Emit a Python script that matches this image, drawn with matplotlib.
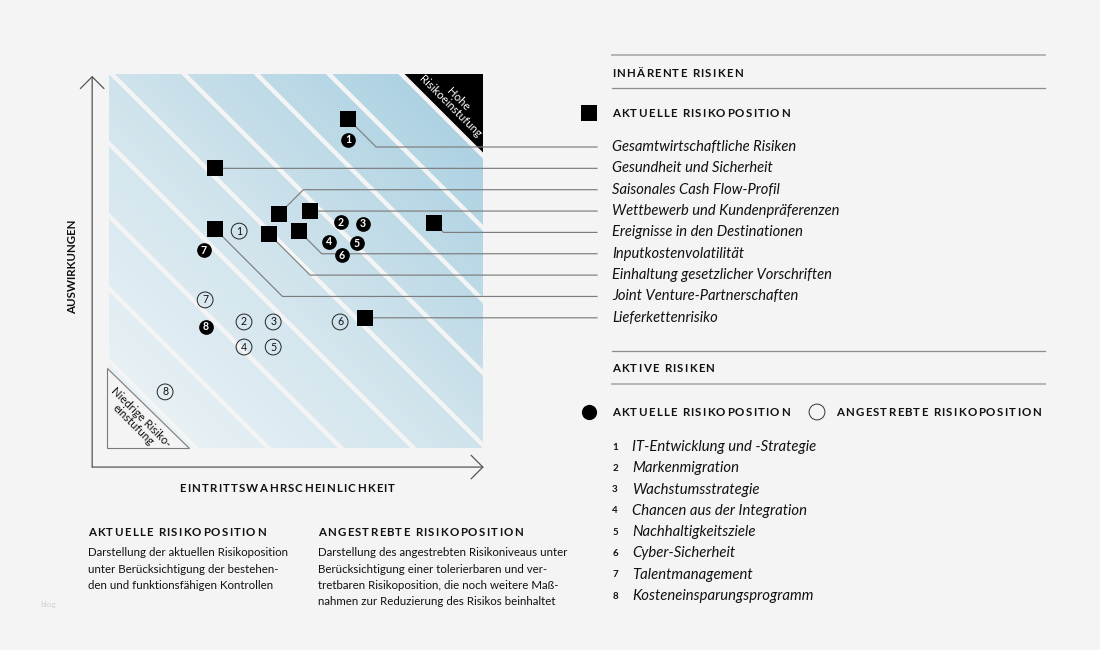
import matplotlib
matplotlib.use('Agg')
import matplotlib.pyplot as plt
from matplotlib.colors import LinearSegmentedColormap
import numpy as np

plt.rcParams['font.family'] = ['Lato', 'DejaVu Sans']

BG = '#f4f4f4'
W, H = 1100, 650

# Inhärente Risiken (Quadrate), Eintrittswahrscheinlichkeit / Auswirkungen auf 0-100
inherent_labels = ['Gesamtwirtschaftliche Risiken', 'Gesundheit und Sicherheit',
                   'Saisonales Cash Flow-Profil', 'Wettbewerb und Kundenpräferenzen',
                   'Ereignisse in den Destinationen', 'Inputkostenvolatilität',
                   'Einhaltung gesetzlicher Vorschriften', 'Joint Venture-Partnerschaften',
                   'Lieferkettenrisiko']
inherent_x = [63.9, 28.3, 45.5, 53.7, 86.9, 50.8, 42.8, 28.3, 68.4]
inherent_y = [88.0, 74.9, 62.6, 63.3, 60.2, 58.0, 57.2, 58.6, 34.7]

# Aktive Risiken: aktuelle (gefüllt) und angestrebte (offen) Position
active_labels = ['IT-Entwicklung und -Strategie', 'Markenmigration', 'Wachstumsstrategie',
                 'Chancen aus der Integration', 'Nachhaltigkeitsziele', 'Cyber-Sicherheit',
                 'Talentmanagement', 'Kosteneinsparungsprogramm']
current_x = [63.9, 62.0, 67.9, 58.8, 66.3, 62.3, 25.4, 25.9]
current_y = [82.4, 60.4, 59.9, 55.1, 54.8, 51.6, 52.9, 32.4]
target_x = [34.8, 36.1, 43.9, 36.1, 43.9, 61.8, 25.7, 15.0]
target_y = [58.0, 33.7, 33.7, 27.0, 27.0, 33.7, 39.6, 15.0]

text_current = ['Darstellung der aktuellen Risikoposition',
                'unter Berücksichtigung der bestehen-',
                'den und funktionsfähigen Kontrollen']
text_target = ['Darstellung des angestrebten Risikoniveaus unter',
               'Berücksichtigung einer tolerierbaren und ver-',
               'tretbaren Risikoposition, die noch weitere Maß-',
               'nahmen zur Reduzierung des Risikos beinhaltet']

fig = plt.figure(figsize=(W / 100, H / 100), dpi=100, facecolor=BG)
renderer = fig.canvas.get_renderer()

# Ebene in Pixelkoordinaten für Legende und Texte
lay = fig.add_axes([0, 0, 1, 1])
lay.set_xlim(0, W)
lay.set_ylim(H, 0)
lay.axis('off')


def text_width(s, **kw):
    t = lay.text(0, 0, s, **kw)
    w = t.get_window_extent(renderer).width
    t.remove()
    return w


def spaced_text(x, y, s, gap=1.25, ha='left', size=8.3, **kw):
    # Versalien mit Sperrung, Zeichen einzeln gesetzt
    kw = dict(fontsize=size, weight='bold', color='#111', **kw)
    total = text_width(s, **kw) + gap * (len(s) - 1)
    if ha == 'center':
        x -= total / 2
    base = y + 0.36 * size * 100 / 72
    for i, ch in enumerate(s):
        if ch == ' ':
            continue
        off = text_width(s[:i + 1], **kw) - text_width(ch, **kw)
        lay.text(x + off + gap * i, base, ch, ha='left', va='baseline', **kw)


ax = fig.add_axes([109 / W, 1 - 448 / H, 374 / W, 374 / H])
ax.set_xlim(0, 100)
ax.set_ylim(0, 100)
ax.axis('off')

# Diagonaler Farbverlauf mit hellen Streifen
cmap = LinearSegmentedColormap.from_list('risk', ['#eef4f7', '#cfe3ec', '#a4cde0'])
gx, gy = np.meshgrid(np.linspace(0, 100, 400), np.linspace(0, 100, 400))
ax.imshow(gx + gy, extent=(0, 100, 0, 100), origin='lower', cmap=cmap,
          vmin=0, vmax=200, aspect='auto', interpolation='bilinear', zorder=0)

corner = 21.4
ax.fill([100 - corner, 100, 100], [100, 100, 100 - corner], color='black', lw=0, zorder=0.5)
xs = np.array([-10.0, 110.0])
for k in range(9):
    c = 23.3 + 19.36 * k
    ax.plot(xs, c - xs, color=BG, lw=3.2, solid_capstyle='butt', zorder=1)

ax.text(92.3, 92.3, 'Hohe\nRisikoeinstufung', rotation=-45, rotation_mode='anchor',
        ha='center', va='center', color='white', fontsize=8.2, linespacing=1.0, zorder=2)

ax.fill([-0.5, -0.5, 21.5], [21.5, 0, 0], facecolor=BG, edgecolor='#7a7a7a', lw=0.8,
        zorder=2, clip_on=False)
ax.text(7.6, 7.2, 'Niedrige Risiko-\neinstufung', rotation=-45, rotation_mode='anchor',
        ha='center', va='center', color='#111', fontsize=8.2, linespacing=1.0, zorder=3)

# Achsen mit offenen Pfeilspitzen
arrow = dict(arrowstyle='->, head_length=0.85, head_width=0.85', color='#555', lw=0.9,
             shrinkA=0, shrinkB=0)
ax.annotate('', xy=(-4.5, 99.5), xytext=(-4.5, -5.1), arrowprops=arrow, annotation_clip=False)
ax.annotate('', xy=(100.2, -5.1), xytext=(-4.5, -5.1), arrowprops=arrow, annotation_clip=False)
lay.text(73, 267, 'AUSWIRKUNGEN', rotation=90, ha='center', va='center',
         fontsize=8.3, weight='bold', color='#111')
spaced_text(287, 488, 'EINTRITTSWAHRSCHEINLICHKEIT', ha='center')

# Verbindungslinien von den Quadraten zur Legende
to_data = ax.transData.inverted()
row_inh = [147 + 21.35 * i for i in range(len(inherent_labels))]
for sx, sy, ry in zip(inherent_x, inherent_y, row_inh):
    ex, ey = to_data.transform((597, H - ry))
    bx = sx + abs(sy - ey)
    ax.plot([sx, bx, ex], [sy, ey, ey], color='#7d7d7d', lw=0.85, zorder=3, clip_on=False)

ax.scatter(inherent_x, inherent_y, marker='s', s=140, c='black', lw=0, zorder=5)
ax.scatter(current_x, current_y, marker='o', s=112, c='black', lw=0, zorder=5)
ax.scatter(target_x, target_y, marker='o', s=130, facecolors='none', edgecolors='#222',
           lw=0.7, zorder=5)
for i, (cx, cy) in enumerate(zip(current_x, current_y)):
    ax.text(cx, cy, str(i + 1), color='white', ha='center', va='center',
            fontsize=7.6, weight='bold', zorder=6)
for i, (tx, ty) in enumerate(zip(target_x, target_y)):
    ax.text(tx, ty, str(i + 1), color='#111', ha='center', va='center',
            fontsize=7.6, zorder=6)

# Legende rechts
lay.plot([612, 1045], [55, 55], color='#b0b0b0', lw=1.3)
spaced_text(612, 73, 'INHÄRENTE RISIKEN')
lay.plot([612, 1045], [88, 88], color='#8c8c8c', lw=0.9)
lay.scatter([589], [113], marker='s', s=140, c='black', lw=0)
spaced_text(612, 113, 'AKTUELLE RISIKOPOSITION')
for lbl, ry in zip(inherent_labels, row_inh):
    lay.text(612, ry, lbl, fontsize=10.6, style='italic', color='#111', va='center')

lay.plot([612, 1045], [351, 351], color='#8c8c8c', lw=0.9)
spaced_text(612, 368, 'AKTIVE RISIKEN')
lay.plot([612, 1045], [384, 384], color='#b0b0b0', lw=1.3)
lay.scatter([589], [412], marker='o', s=120, c='black', lw=0)
spaced_text(612, 412, 'AKTUELLE RISIKOPOSITION')
lay.scatter([817], [412], marker='o', s=130, facecolors='none', edgecolors='#333', lw=0.7)
spaced_text(836, 412, 'ANGESTREBTE RISIKOPOSITION')
for i, lbl in enumerate(active_labels):
    ry = 447 + 21.3 * i
    lay.text(615, ry, str(i + 1), fontsize=7, weight='bold', color='#111',
             ha='center', va='center')
    lay.text(632, ry, lbl, fontsize=10.7, style='italic', color='#111', va='center')

# Erläuterungen unten
spaced_text(88, 532, 'AKTUELLE RISIKOPOSITION')
spaced_text(318, 532, 'ANGESTREBTE RISIKOPOSITION')
for i, line in enumerate(text_current):
    lay.text(88, 553 + 16.2 * i, line, fontsize=8.3, color='#111', va='center')
for i, line in enumerate(text_target):
    lay.text(318, 553 + 16.2 * i, line, fontsize=8.3, color='#111', va='center')
lay.text(40, 604, 'blog', fontsize=6, color='#d0d0d0', va='center')

fig.savefig('out.png', dpi=100, facecolor=BG)
